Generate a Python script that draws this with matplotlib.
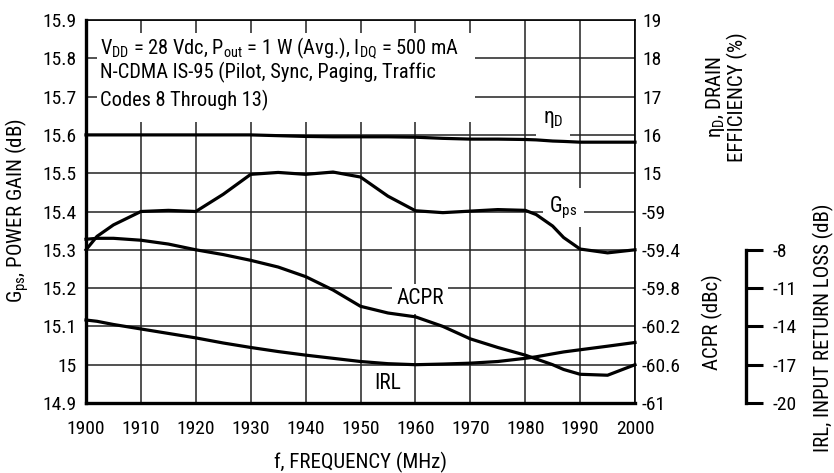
import matplotlib
matplotlib.use("Agg")
import matplotlib.pyplot as plt
from matplotlib import font_manager
from matplotlib.patches import Rectangle
from matplotlib.ticker import FuncFormatter, FixedLocator

names = {f.name for f in font_manager.fontManager.ttflist}
FAM = 'Liberation Sans'
for cand in ['Roboto Condensed', 'Arial Narrow', 'Liberation Sans Narrow', 'Nimbus Sans Narrow',
             'PT Sans Narrow', 'Archivo Narrow', 'Liberation Sans']:
    if cand in names:
        FAM = cand
        break
plt.rcParams['font.family'] = [FAM, 'DejaVu Sans']
plt.rcParams['mathtext.fontset'] = 'custom'
plt.rcParams['mathtext.rm'] = FAM
plt.rcParams['mathtext.it'] = FAM
plt.rcParams['mathtext.default'] = 'rm'

# ---- data ----
freq = [1900, 1902, 1905, 1910, 1915, 1920, 1925, 1930, 1935, 1940, 1945,
        1950, 1955, 1960, 1965, 1970, 1975, 1980, 1982, 1985, 1987, 1990, 1995, 2000]
gps = [15.30, 15.335, 15.365, 15.400, 15.403, 15.400, 15.445, 15.497, 15.502,
       15.497, 15.503, 15.490, 15.440, 15.402, 15.397, 15.401, 15.405, 15.403,
       15.392, 15.362, 15.332, 15.302, 15.292, 15.300]
eff = [16.00, 16.00, 16.00, 16.00, 16.00, 16.00, 16.00, 16.00, 15.98, 15.96,
       15.95, 15.95, 15.95, 15.94, 15.91, 15.89, 15.89, 15.88, 15.87, 15.84,
       15.83, 15.81, 15.81, 15.81]
acpr = [-59.29, -59.28, -59.28, -59.30, -59.34, -59.40, -59.45, -59.51, -59.58,
        -59.68, -59.82, -59.99, -60.06, -60.10, -60.20, -60.33, -60.42, -60.50,
        -60.54, -60.60, -60.65, -60.70, -60.71, -60.60]
irl = [-13.5, -13.6, -13.85, -14.2, -14.55, -14.9, -15.3, -15.65, -15.97,
       -16.25, -16.5, -16.75, -16.92, -17.0, -16.95, -16.88, -16.75, -16.5,
       -16.38, -16.15, -16.0, -15.83, -15.55, -15.26]

x_ticks = [1900, 1910, 1920, 1930, 1940, 1950, 1960, 1970, 1980, 1990, 2000]
gps_ticks = [14.9, 15.0, 15.1, 15.2, 15.3, 15.4, 15.5, 15.6, 15.7, 15.8, 15.9]
eff_ticks = [15, 16, 17, 18, 19]
acpr_ticks = [-61, -60.6, -60.2, -59.8, -59.4, -59]
irl_ticks = [-20, -17, -14, -11, -8]

W, H = 834, 473
fig = plt.figure(figsize=(W / 100, H / 100), dpi=100)
L, R, T, B = 86, 635, 20, 403
ax = fig.add_axes([L / W, 1 - B / H, (R - L) / W, (B - T) / H])

FS = 14
LW = 2.3
ax.set_xlim(1900, 2000)
ax.set_ylim(14.9, 15.9)
ax.set_xticks(x_ticks)
ax.set_yticks(gps_ticks)
ax.yaxis.set_major_formatter(FuncFormatter(lambda v, p: f"{v:g}"))
ax.tick_params(axis='both', length=0, labelsize=FS)
ax.tick_params(axis='x', pad=12)
ax.tick_params(axis='y', pad=7)
ax.set_axisbelow(True)
ax.grid(True, color='#222222', lw=1.1)
for s in ['left', 'bottom']:
    ax.spines[s].set_linewidth(2.4)
for s in ['top', 'right']:
    ax.spines[s].set_linewidth(1.2)

# white box behind conditions text
ax.add_patch(Rectangle((1902, 15.634), 1970.9 - 1902, 15.866 - 15.634,
                       facecolor='white', edgecolor='none', zorder=1))

ax.plot(freq, gps, color='black', lw=LW, zorder=3, clip_on=False)

# efficiency twin
ax_eff = ax.twinx()
ax_eff.set_ylim(9, 19)
ax_eff.yaxis.set_major_locator(FixedLocator(eff_ticks))
ax_eff.yaxis.set_major_formatter(FuncFormatter(lambda v, p: f"{v:g}"))
ax_eff.tick_params(axis='y', length=0, labelsize=FS, pad=5)
for s in ax_eff.spines.values():
    s.set_visible(False)
ax_eff.plot(freq, eff, color='black', lw=LW, zorder=3, clip_on=False)

# ACPR twin
ax_acpr = ax.twinx()
ax_acpr.set_ylim(-61, -57)
ax_acpr.yaxis.set_major_locator(FixedLocator(acpr_ticks))
ax_acpr.yaxis.set_major_formatter(FuncFormatter(lambda v, p: f"{v:g}".replace('\u2212', '-')))
ax_acpr.tick_params(axis='y', length=0, labelsize=FS, pad=5)
for s in ax_acpr.spines.values():
    s.set_visible(False)
ax_acpr.plot(freq, acpr, color='black', lw=LW, zorder=3, clip_on=False)

# IRL twin with offset spine
ax_irl = ax.twinx()
ax_irl.set_ylim(-20, 10)
for s in ['top', 'left', 'bottom']:
    ax_irl.spines[s].set_visible(False)
ax_irl.spines['right'].set_position(('axes', (746 - L) / (R - L)))
ax_irl.spines['right'].set_bounds(-20, -8)
ax_irl.spines['right'].set_linewidth(2.4)
ax_irl.yaxis.set_major_locator(FixedLocator(irl_ticks))
ax_irl.yaxis.set_major_formatter(FuncFormatter(lambda v, p: f"{v:g}".replace('\u2212', '-')))
ax_irl.tick_params(axis='y', direction='out', length=12, width=2.2, labelsize=FS, pad=7)
ax_irl.plot(freq, irl, color='black', lw=LW, zorder=3, clip_on=False)

# conditions text
tfs = 14.7
ax.text(1902.6, 15.827, r"V$_{\mathregular{DD}}$ = 28 Vdc, P$_{\mathregular{out}}$ = 1 W (Avg.), I$_{\mathregular{DQ}}$ = 500 mA",
        fontsize=tfs, va='center', ha='left', zorder=4)
ax.text(1902.6, 15.762, "N-CDMA IS-95 (Pilot, Sync, Paging, Traffic",
        fontsize=tfs, va='center', ha='left', zorder=4)
ax.text(1902.6, 15.691, "Codes 8 Through 13)",
        fontsize=tfs, va='center', ha='left', zorder=4)

# curve labels
lfs = 15.5
ax.text(1985.1, 15.641, r"η$_{\mathregular{D}}$", fontsize=lfs, ha='center', va='center', zorder=2.5,
        bbox=dict(boxstyle='square,pad=0.3', facecolor='white', edgecolor='none'))
ax.text(1987.0, 15.41, r"G$_{\mathregular{ps}}$", fontsize=lfs, ha='center', va='center', zorder=2.5,
        bbox=dict(boxstyle='square,pad=0.3', facecolor='white', edgecolor='none'))
ax.text(1960.8, 15.172, "ACPR", fontsize=lfs, ha='center', va='center', zorder=2.5,
        bbox=dict(boxstyle='square,pad=0.2', facecolor='white', edgecolor='none'))
ax.text(1955.0, 14.952, "IRL", fontsize=lfs, ha='center', va='center', zorder=2.5,
        bbox=dict(boxstyle='square,pad=0.1', facecolor='white', edgecolor='none'))

# axis labels
afs = 15
fig.text(17 / W, 1 - 211 / H, r"G$_{\mathregular{ps}}$, POWER GAIN (dB)", rotation=90,
         fontsize=afs, ha='center', va='center')
fig.text(360 / W, 1 - 468 / H, "f, FREQUENCY (MHz)", fontsize=afs, ha='center', va='baseline')
fig.text(726 / W, 1 - 97 / H, "η$_{\\mathregular{D}}$, DRAIN\nEFFICIENCY (%)", rotation=90,
         fontsize=afs, ha='center', va='center', multialignment='center', linespacing=1.05)
fig.text(712 / W, 1 - 322 / H, "ACPR (dBc)", rotation=90, fontsize=afs, ha='center', va='center')
fig.text(823 / W, 1 - 328 / H, "IRL, INPUT RETURN LOSS (dB)", rotation=90, fontsize=afs,
         ha='center', va='center')

fig.savefig("out.png", dpi=100)
